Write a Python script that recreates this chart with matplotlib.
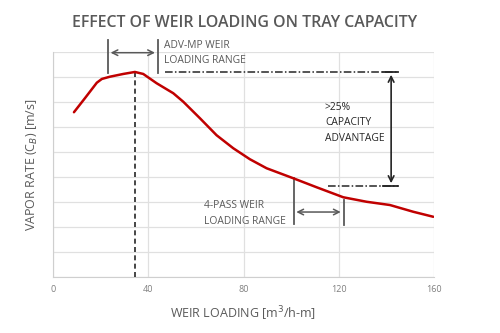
import matplotlib
matplotlib.use("Agg")
import matplotlib.pyplot as plt

# curve (y in gridline units, 0..9)
weir_loading = [8.8, 13.4, 18.4, 20.5, 23.9, 29.5, 34.4, 37.9, 43.5, 50.5, 54.7, 61.7,
                68.7, 75.7, 82.7, 89.7, 100.9, 110.7, 121.9, 131.7, 141.5, 151.3, 159.7]
vapor_rate = [6.59, 7.15, 7.77, 7.92, 8.01, 8.12, 8.2, 8.12, 7.75, 7.35, 7.01, 6.35,
              5.67, 5.15, 4.71, 4.35, 3.95, 3.59, 3.19, 3.01, 2.88, 2.61, 2.41]
x_ticks = [0, 40, 80, 120, 160]

peak_x = 34.4
adv_range = (23, 44)
pass4_range = (101, 122)
cap_top, cap_bot = 8.2, 3.64

grey = "#595959"
plt.rcParams['font.family'] = ['Open Sans', 'DejaVu Sans']

fig = plt.figure(figsize=(5, 3.33), dpi=100)
ax = fig.add_axes([0.106, 0.168, 0.762, 0.676])
ax.set_xlim(0, 160)
ax.set_ylim(0, 9)
ax.set_xticks(x_ticks)
ax.set_yticks(range(0, 10))
ax.set_yticklabels([])
ax.tick_params(length=0, labelsize=6.5, colors="#7f7f7f", pad=6)
ax.grid(True, color="#e0e0e0", lw=0.9)
ax.set_axisbelow(True)
for s in ["top", "right"]:
    ax.spines[s].set_visible(False)
for s in ["left", "bottom"]:
    ax.spines[s].set_color("#cfcfcf")

ax.plot(weir_loading, vapor_rate, color="#c00000", lw=1.8, zorder=5,
        solid_capstyle="round", solid_joinstyle="round")

# dashed line below peak
ax.plot([peak_x, peak_x], [0, 8.2], color="#262626", ls=(0, (3, 2)), lw=1.2, zorder=4)

# ADV-MP range
for xv in adv_range:
    ax.plot([xv, xv], [8.16, 9.48], color=grey, lw=1.3, clip_on=False)
ax.annotate("", xy=(adv_range[0], 8.97), xytext=(adv_range[1], 8.97),
            arrowprops=dict(arrowstyle="<->", color=grey, lw=1.1), annotation_clip=False)
ax.text(46.5, 8.96, "ADV-MP WEIR\nLOADING RANGE", fontsize=7.4, color=grey,
        va="center", ha="left", linespacing=1.55)

# capacity advantage
ax.plot([47, 145], [cap_top, cap_top], color="#262626", ls=(0, (5, 1.5, 1, 1.5)), lw=1.1)
ax.plot([115.5, 145], [cap_bot, cap_bot], color="#262626", ls=(0, (5, 1.5, 1, 1.5)), lw=1.1)
for yv in (cap_top, cap_bot):
    ax.plot([138.5, 145], [yv, yv], color="#262626", lw=1.3)
ax.annotate("", xy=(142, cap_top), xytext=(142, cap_bot),
            arrowprops=dict(arrowstyle="<->", color="#262626", lw=1.2))
ax.text(114.2, 6.17, ">25%\nCAPACITY\nADVANTAGE", fontsize=7.4, color="#262626",
        va="center", ha="left", linespacing=1.55)

# 4-pass range
ax.plot([pass4_range[0]] * 2, [2.12, 3.95], color=grey, lw=1.3)
ax.plot([pass4_range[1]] * 2, [2.08, 3.08], color=grey, lw=1.3)
ax.annotate("", xy=(pass4_range[0], 2.6), xytext=(pass4_range[1], 2.6),
            arrowprops=dict(arrowstyle="<->", color=grey, lw=1.1))
ax.text(63.3, 2.54, "4-PASS WEIR\nLOADING RANGE", fontsize=7.4, color=grey,
        va="center", ha="left", linespacing=1.55)

fig.text(0.49, 0.93, "EFFECT OF WEIR LOADING ON TRAY CAPACITY", fontsize=11.4,
         color=grey, ha="center", va="center", fontweight="semibold")
ax.set_xlabel("WEIR LOADING [m$^3$/h-m]", fontsize=9, color=grey, labelpad=7)
ax.set_ylabel("VAPOR RATE (C$_B$) [m/s]", fontsize=9, color=grey, labelpad=3.5)

fig.savefig("out.png", dpi=100)
